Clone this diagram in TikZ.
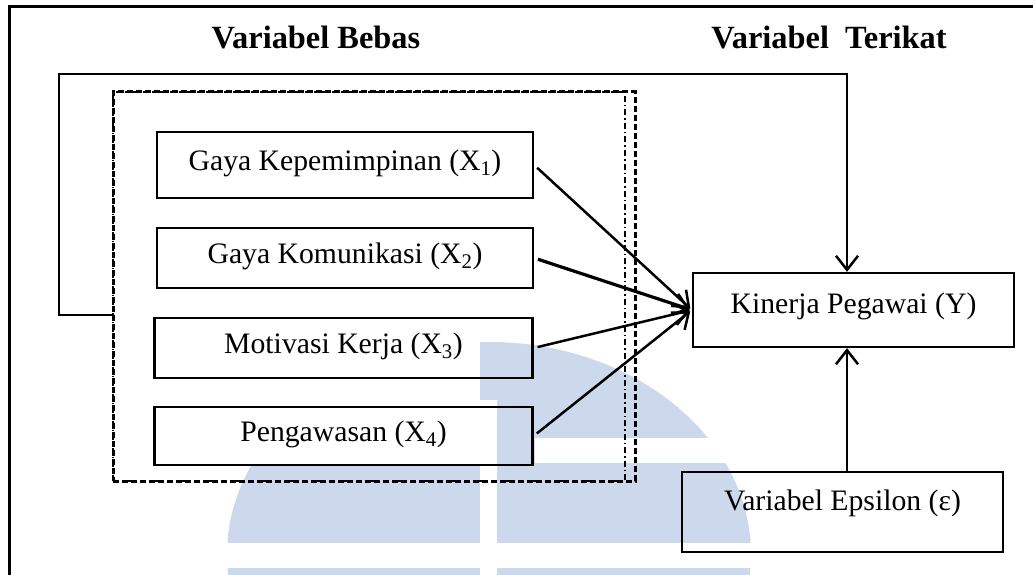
\documentclass[tikz,border=0pt]{standalone}
\usepackage{fontspec}
\setmainfont{Liberation Serif}
\usetikzlibrary{arrows.meta,calc}
\definecolor{wm}{RGB}{204,216,236}
\tikzset{
  box/.style={draw, line width=2.3pt, inner sep=0pt, font=\fontsize{29.7}{32}\selectfont, text height=21pt, text depth=11pt},
  conn/.style={line width=2.5pt, -{Straight Barb[length=14pt,width=22pt,line width=2.5pt]}},
  head/.style={font=\fontsize{32.4}{36}\selectfont\bfseries, anchor=base, inner sep=0pt},
  frameline/.style={line width=3pt},
  dashbox/.style={draw, line width=3pt, dash pattern=on 6pt off 3pt, inner sep=0pt},
  dotbox/.style={draw, line width=1.8pt, dash pattern=on 6pt off 3pt on 1.5pt off 3pt, inner sep=0pt},
}
\begin{document}
\begin{tikzpicture}[x=1pt,y=-1pt]
\useasboundingbox (0,0) rectangle (1033,575);
\clip (0,0) rectangle (1033,575);
\fill[white] (0,0) rectangle (1033,575);
% watermark
\begin{scope}
  \clip (489,555) ellipse [x radius=262, y radius=213];
  \fill[wm] (480,300) rectangle (800,400);
  \fill[wm] (497,400) rectangle (800,438);
  \fill[wm] (497,438) rectangle (535,463);
  \fill[wm] (497,463) rectangle (800,543);
  \fill[wm] (200,465) rectangle (480,543);
  \fill[wm] (200,568) rectangle (480,580);
  \fill[wm] (497,568) rectangle (800,580);
\end{scope}
% outer frame
\draw[frameline] (9,590) -- (9,7) -- (1050,7);
% headers
\node[head] (hb) at (316,49) {Variabel Bebas};
\node[head] (ht) at (829,49) {Variabel\ \ Terikat};
% independent variable group
\node[dashbox, minimum width=522pt, minimum height=389pt] (vb) at (374,286.5) {};
\node[dotbox, minimum width=512pt, minimum height=389pt] (vb2) at (369,286.5) {};
% boxes
\node[box, minimum width=376pt, minimum height=66pt] (x1) at (345,165) {Gaya Kepemimpinan (X\textsubscript{1})};
\node[box, minimum width=376pt, minimum height=60pt] (x2) at (345,258) {Gaya Komunikasi (X\textsubscript{2})};
\node[box, minimum width=378pt, minimum height=60pt] (x3) at (343.5,348) {Motivasi Kerja (X\textsubscript{3})};
\node[box, minimum width=378pt, minimum height=58pt] (x4) at (343.5,436) {Pengawasan (X\textsubscript{4})};
\node[box, minimum width=321pt, minimum height=74pt, text depth=15pt] (Y) at (853.5,310) {Kinerja Pegawai (Y)};
\node[box, minimum width=321pt, minimum height=80pt, text depth=25pt] (eps) at (842.5,512) {Variabel Epsilon (ε)};
% connectors
\coordinate (fbc) at (847,74);
\coordinate (fbl) at (59,74);
\draw[conn] ($(vb.west)+(0,28.5)$) -| (fbl) -| (Y.north -| fbc);
\draw[conn] (eps.north -| fbc) -- (Y.south -| fbc);
\draw[conn, shorten <=4pt, shorten >=2pt] (x1.east) -- (Y.west);
\draw[conn, line width=3.2pt, shorten <=4pt, shorten >=2pt] (x2.east) -- (Y.west);
\draw[conn, shorten <=4pt, shorten >=2pt] (x3.east) -- (Y.west);
\draw[conn, shorten <=4pt, shorten >=2pt] (x4.east) -- (Y.west);
\end{tikzpicture}
\end{document}
